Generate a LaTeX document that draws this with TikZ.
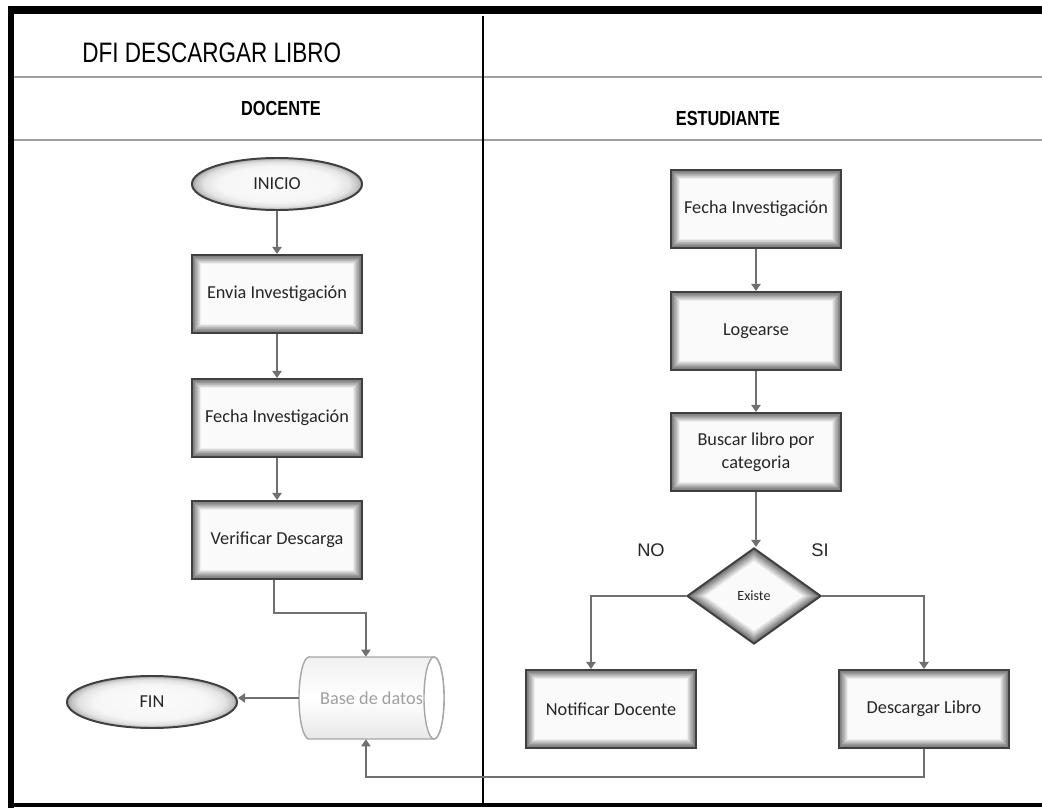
\documentclass[tikz,border=0pt]{standalone}
\usepackage{fontspec}
\setmainfont{Carlito}
\newfontfamily\hdr[FakeStretch=0.8]{Liberation Sans}
\newfontfamily\lblfont{Liberation Sans}
\usetikzlibrary{shapes.geometric,arrows.meta,calc}
\pgfdeclareradialshading{glow}{\pgfpoint{0bp}{0bp}}{color(0bp)=(gray!3); color(17bp)=(gray!7); color(21.5bp)=(gray!22); color(23.8bp)=(gray!48); color(25bp)=(gray!75); color(50bp)=(gray!75)}
\tikzset{
  pbox/.style={rectangle, draw=black!75, line width=1.4pt, fill=gray!4,
    minimum width=4.25cm, minimum height=1.95cm, inner sep=2pt, align=center,
    font=\fontsize{13}{16}\selectfont, text=black!85,
    path picture={\foreach \i [evaluate=\i as \gw using 14-1*\i, evaluate=\i as \gc using 2+4.3*\i] in {1,...,12}{
      \draw[line width=\gw pt, black!\gc] (path picture bounding box.south west) rectangle (path picture bounding box.north east);}}},
  decbox/.style={diamond, draw=black!75, line width=1.4pt, fill=gray!4,
    minimum width=3.35cm, minimum height=2.4cm, inner sep=0pt, aspect=1.4,
    font=\fontsize{10}{12}\selectfont, text=black!85,
    path picture={\foreach \i [evaluate=\i as \gw using 16-1.15*\i, evaluate=\i as \gc using 2+4.3*\i] in {1,...,12}{
      \draw[line width=\gw pt, black!\gc] (path picture bounding box.north) -- (path picture bounding box.east) -- (path picture bounding box.south) -- (path picture bounding box.west) -- cycle;}}},
  term/.style={ellipse, draw=black!75, line width=1.4pt, shade, shading=glow,
    minimum width=4.25cm, minimum height=1.3cm, inner sep=0pt,
    font=\fontsize{13}{16}\selectfont, text=black!85},
  dbase/.style={rectangle, draw=none, minimum width=3.625cm, minimum height=2.05cm,
    inner sep=0pt, text=gray!75, font=\fontsize{13}{16}\selectfont},
  dbline/.style={draw=gray!70, line width=1pt},
  arr/.style={draw=black!56, line width=1.3pt, -{Triangle[width=6.5pt,length=5pt]}},
  lbl/.style={font=\lblfont\fontsize{13}{16}\selectfont, text=black!85},
  lane/.style={draw=gray!75, line width=1.6pt}
}
\begin{document}
\begin{tikzpicture}[x=0.025cm,y=-0.025cm]
\useasboundingbox (0,0) rectangle (1042,808);
\fill[white] (0,0) rectangle (1042,808);
% frame
\fill[black] (8,6) rectangle (1042,14);
\fill[black] (8,6) rectangle (14,808);
\fill[black] (8,803) rectangle (1042,807);
% lanes
\draw[lane] (14,77) -- (1042,77);
\draw[lane] (14,140) -- (1042,140);
\draw[black, line width=1pt] (483,16) -- (483,803);
% headings
\node[anchor=west, inner sep=0pt, font=\hdr\fontsize{20}{24}\selectfont] (title) at (82,53) {DFI DESCARGAR LIBRO};
\node[inner sep=0pt, font=\hdr\bfseries\fontsize{14.5}{17}\selectfont] (docente) at (281,108) {DOCENTE};
\node[inner sep=0pt, font=\hdr\bfseries\fontsize{14.5}{17}\selectfont] (estud) at (728,118) {ESTUDIANTE};
% database cylinder body (drawn directly)
\path[dbline, top color=gray!12, bottom color=gray!18, middle color=white]
  (309,657) -- (434,657)
  arc[start angle=90, end angle=-90, x radius=0.25cm, y radius=1.025cm]
  -- (309,739)
  arc[start angle=270, end angle=90, x radius=0.25cm, y radius=1.025cm] -- cycle;
\draw[dbline, fill=white] (434,698) ellipse [x radius=0.25cm, y radius=1.025cm];
% left lane
\node[term] (inicio) at (277,184) {INICIO};
\node[pbox] (envia) at (277,294) {Envia Investigación};
\node[pbox] (fecha1) at (277,418) {Fecha Investigación};
\node[pbox] (verif) at (277,540) {Verificar Descarga};
\node[dbase] (base) at (371.5,698) {Base de datos};
\node[term] (fin) at (152,702) {FIN};
% right lane
\node[pbox] (fecha2) at (756,209) {Fecha Investigación};
\node[pbox] (login) at (756,331) {Logearse};
\node[pbox] (buscar) at (756,452) {Buscar libro por\\categoria};
\node[decbox] (existe) at (754,596) {Existe};
\node[pbox] (notif) at (611,709) {Notificar Docente};
\node[pbox] (desc) at (924,709) {Descargar Libro};
\node[lbl] (no) at (651,550) {NO};
\node[lbl] (si) at (820,550) {SI};
% connectors
\draw[arr] (inicio) -- (envia);
\draw[arr] (envia) -- (fecha1);
\draw[arr] (fecha1) -- (verif);
\draw[arr] ([xshift=-0.075cm]verif.south) -- ++(0,33) -| ([xshift=-0.14cm]base.north);
\draw[arr] (base.west) -- (base.west -| fin.east);
\draw[arr] (fecha2) -- (login);
\draw[arr] (login) -- (buscar);
\draw[arr] (buscar.south) -- (buscar.south |- existe.north);
\draw[arr] (existe.west) -| ([xshift=-0.5cm]notif.north);
\draw[arr] (existe.east) -| (desc.north);
\draw[arr] (desc.south) -- ++(0,28) -| ([xshift=-0.14cm]base.south);
\end{tikzpicture}
\end{document}
